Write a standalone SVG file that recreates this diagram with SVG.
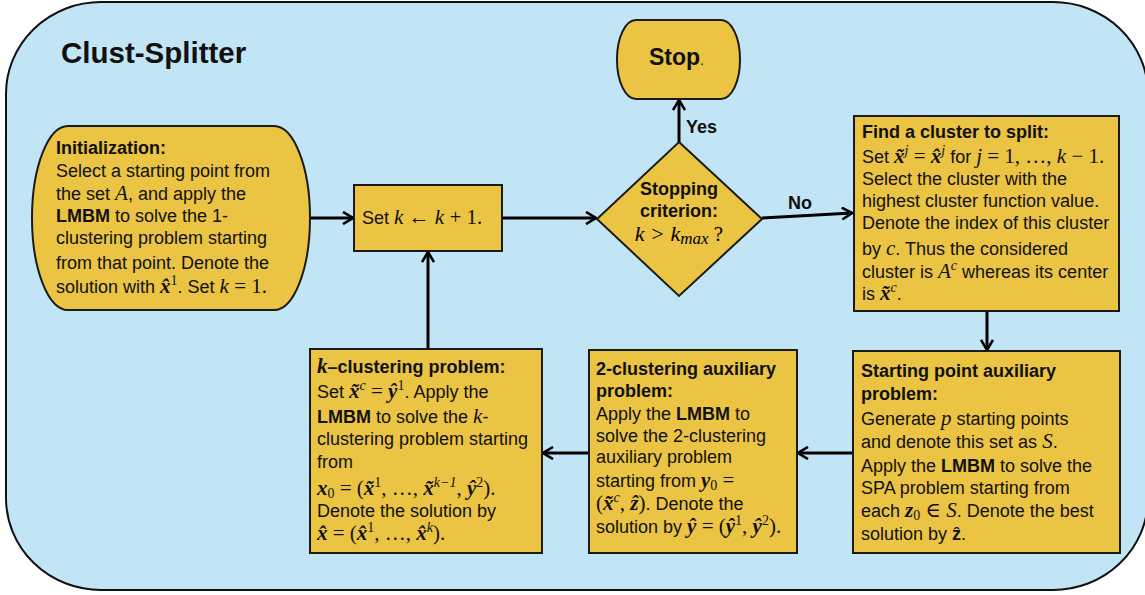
<svg xmlns="http://www.w3.org/2000/svg" width="1145" height="595" viewBox="0 0 1145 595">
<style>
.t{font-family:"Liberation Sans",Arial,sans-serif;font-size:18px;fill:#111}
.b{font-weight:bold}
.m{font-family:"Liberation Serif","DejaVu Serif",serif;font-style:italic;font-size:21px}
.r{font-family:"Liberation Serif","DejaVu Serif",serif;font-style:normal;font-size:21px}
.v{font-family:"Liberation Serif","DejaVu Serif",serif;font-style:italic;font-weight:bold;font-size:21px}
.sp{font-size:14px;baseline-shift:8px}
.sb{font-size:14px;baseline-shift:-3px}
.node{fill:#EBC443;stroke:#1a1a1a;stroke-width:2}
.conn{stroke:#000;stroke-width:3;fill:none}
</style>
<defs>
<marker id="ah" viewBox="0 0 12 14" refX="11" refY="7" markerWidth="12" markerHeight="14" markerUnits="userSpaceOnUse" orient="auto">
<path d="M1,1 L11,7 L1,13" fill="none" stroke="#000" stroke-width="2.6"/>
</marker>
</defs>
<rect x="6" y="2" width="1142" height="588" rx="95" ry="92" fill="#C2E5F5" stroke="#111" stroke-width="2"/>
<text class="t b" x="61" y="63" style="font-size:29.5px">Clust-Splitter</text>

<g id="connectors">
<line class="conn" x1="310" y1="218" x2="353" y2="218" marker-end="url(#ah)"/>
<line class="conn" x1="502" y1="218" x2="596" y2="218" marker-end="url(#ah)"/>
<line class="conn" x1="679" y1="142" x2="679" y2="100" marker-end="url(#ah)"/>
<line class="conn" x1="762" y1="218" x2="852" y2="213" marker-end="url(#ah)"/>
<line class="conn" x1="987" y1="311" x2="987" y2="350" marker-end="url(#ah)"/>
<line class="conn" x1="853" y1="453" x2="798" y2="453" marker-end="url(#ah)"/>
<line class="conn" x1="589" y1="453" x2="543" y2="453" marker-end="url(#ah)"/>
<line class="conn" x1="428" y1="349" x2="428" y2="252" marker-end="url(#ah)"/>
<text class="t b" x="686" y="133">Yes</text>
<text class="t b" x="788" y="209">No</text>
</g>

<g id="stop">
<rect class="node" x="617" y="20" width="123" height="79" rx="19" ry="39"/>
<text class="t" x="649" y="65"><tspan class="b" style="font-size:23px">Stop</tspan><tspan style="font-size:14px">.</tspan></text>
</g>

<g id="init">
<rect class="node" x="32" y="126" width="278" height="184" rx="36" ry="92"/>
<text class="t" x="56" y="154"><tspan class="b">Initialization:</tspan></text>
<text class="t" x="56" y="177">Select a starting point from</text>
<text class="t" x="56" y="200">the set <tspan class="m">A</tspan>, and apply the</text>
<text class="t" x="56" y="222"><tspan class="b">LMBM</tspan> to solve the 1-</text>
<text class="t" x="56" y="244">clustering problem starting</text>
<text class="t" x="56" y="269">from that point. Denote the</text>
<text class="t" x="56" y="293">solution with <tspan class="v">x&#x302;</tspan><tspan class="r sp">1</tspan>. Set <tspan class="m">k</tspan><tspan class="r"> = 1.</tspan></text>
</g>

<g id="setk">
<rect class="node" x="354" y="185" width="148" height="66"/>
<text class="t" x="362" y="224">Set <tspan class="m">k</tspan><tspan class="r"> ← </tspan><tspan class="m">k</tspan><tspan class="r"> + 1.</tspan></text>
</g>

<g id="criterion">
<polygon class="node" points="679,142 762,219 679,296 597,219"/>
<text class="t b" x="679" y="195" text-anchor="middle">Stopping</text>
<text class="t b" x="679" y="217" text-anchor="middle">criterion:</text>
<text class="m" x="679" y="241" text-anchor="middle" style="font-size:22px">k &gt; k<tspan style="font-size:17px;baseline-shift:-3px">max</tspan><tspan class="r"> ?</tspan></text>
</g>

<g id="find">
<rect class="node" x="854" y="116" width="265" height="195"/>
<text class="t b" x="862" y="138">Find a cluster to split:</text>
<text class="t" x="862" y="163">Set <tspan class="v">x&#x303;</tspan><tspan class="m sp">j</tspan><tspan class="r"> = </tspan><tspan class="v">x&#x302;</tspan><tspan class="m sp">j</tspan> for <tspan class="m">j</tspan><tspan class="r"> = 1, …, </tspan><tspan class="m">k</tspan><tspan class="r"> − 1.</tspan></text>
<text class="t" x="862" y="185">Select the cluster with the</text>
<text class="t" x="862" y="207">highest cluster function value.</text>
<text class="t" x="862" y="229">Denote the index of this cluster</text>
<text class="t" x="862" y="255">by <tspan class="m">c</tspan>. Thus the considered</text>
<text class="t" x="862" y="278">cluster is <tspan class="m">A</tspan><tspan class="m sp">c</tspan> whereas its center</text>
<text class="t" x="862" y="300">is <tspan class="v">x&#x303;</tspan><tspan class="m sp">c</tspan>.</text>
</g>

<g id="startpoint">
<rect class="node" x="853" y="351" width="267" height="202"/>
<text class="t b" x="861" y="377">Starting point auxiliary</text>
<text class="t b" x="861" y="400">problem:</text>
<text class="t" x="861" y="425">Generate <tspan class="m">p</tspan> starting points</text>
<text class="t" x="861" y="448">and denote this set as <tspan class="m">S</tspan>.</text>
<text class="t" x="861" y="472">Apply the <tspan class="b">LMBM</tspan> to solve the</text>
<text class="t" x="861" y="494">SPA problem starting from</text>
<text class="t" x="861" y="517">each <tspan class="v">z</tspan><tspan class="r sb">0</tspan><tspan class="r"> ∈ </tspan><tspan class="m">S</tspan>. Denote the best</text>
<text class="t" x="861" y="540">solution by <tspan class="b">ẑ</tspan>.</text>
</g>

<g id="twoclust">
<rect class="node" x="589" y="350" width="208" height="203"/>
<text class="t b" x="596" y="375">2-clustering auxiliary</text>
<text class="t b" x="596" y="397">problem:</text>
<text class="t" x="596" y="420">Apply the <tspan class="b">LMBM</tspan> to</text>
<text class="t" x="596" y="442">solve the 2-clustering</text>
<text class="t" x="596" y="463">auxiliary problem</text>
<text class="t" x="596" y="487">starting from <tspan class="v">y</tspan><tspan class="r sb">0</tspan><tspan class="r"> =</tspan></text>
<text class="t" x="596" y="510"><tspan class="r">(</tspan><tspan class="v">x&#x303;</tspan><tspan class="m sp">c</tspan><tspan class="r">, </tspan><tspan class="v">ẑ</tspan><tspan class="r">)</tspan>. Denote the</text>
<text class="t" x="596" y="533">solution by <tspan class="v">ŷ</tspan><tspan class="r"> = (</tspan><tspan class="v">ŷ</tspan><tspan class="r sp">1</tspan><tspan class="r">, </tspan><tspan class="v">ŷ</tspan><tspan class="r sp">2</tspan><tspan class="r">).</tspan></text>
</g>

<g id="kclust">
<rect class="node" x="310" y="349" width="232" height="204"/>
<text class="t b" x="317" y="373"><tspan class="v">k</tspan>–clustering problem:</text>
<text class="t" x="317" y="398">Set <tspan class="v">x&#x303;</tspan><tspan class="m sp">c</tspan><tspan class="r"> = </tspan><tspan class="v">ŷ</tspan><tspan class="r sp">1</tspan>. Apply the</text>
<text class="t" x="317" y="423"><tspan class="b">LMBM</tspan> to solve the <tspan class="m">k</tspan>-</text>
<text class="t" x="317" y="445">clustering problem starting</text>
<text class="t" x="317" y="468">from</text>
<text class="t" x="317" y="495"><tspan class="v">x</tspan><tspan class="r sb">0</tspan><tspan class="r"> = (</tspan><tspan class="v">x&#x303;</tspan><tspan class="r sp">1</tspan><tspan class="r">, …, </tspan><tspan class="v">x&#x303;</tspan><tspan class="m sp">k−1</tspan><tspan class="r">, </tspan><tspan class="v">ŷ</tspan><tspan class="r sp">2</tspan><tspan class="r">).</tspan></text>
<text class="t" x="317" y="517">Denote the solution by</text>
<text class="t" x="317" y="540"><tspan class="v">x&#x302;</tspan><tspan class="r"> = (</tspan><tspan class="v">x&#x302;</tspan><tspan class="r sp">1</tspan><tspan class="r">, …, </tspan><tspan class="v">x&#x302;</tspan><tspan class="m sp">k</tspan><tspan class="r">).</tspan></text>
</g>
</svg>
